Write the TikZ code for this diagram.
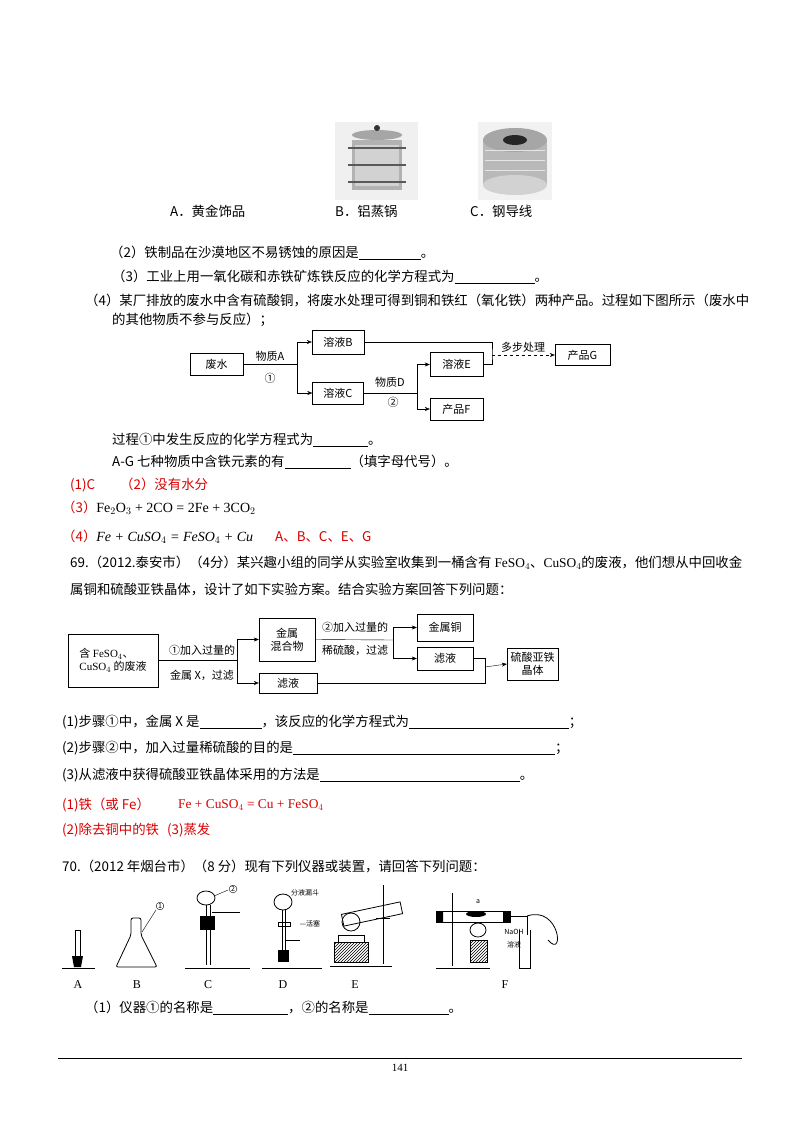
\documentclass[tikz,border=0pt]{standalone}
\usepackage{fontspec}
\setmainfont{Noto Sans CJK SC}
\newfontfamily\tm{Liberation Serif}
\usetikzlibrary{arrows.meta,patterns}
\newcommand{\blk}[1]{\rule[-2pt]{#1}{0.5pt}}
\begin{document}
\begin{tikzpicture}[x=1pt,y=-1pt,
 txt/.style={anchor=west,inner sep=0,font=\fontsize{13.4}{15}\selectfont},
 rtxt/.style={txt,text=red!85!black},
 box/.style={draw,thin,inner sep=1pt,font=\fontsize{11}{13}\selectfont,align=center},
 arr/.style={-{Stealth[length=5pt,width=4pt]}},
 lbl/.style={inner sep=0,font=\fontsize{11}{13}\selectfont},
 sm/.style={inner sep=0,font=\fontsize{7}{8}\selectfont},
 app/.style={line width=0.8pt}]
\path[fill=white] (0,0) rectangle (800,1132);
% top images
\fill[gray!12] (335,122) rectangle (418,200);
\fill[gray!60] (352,140) rectangle (402,190);
\fill[gray!35] (355,145) rectangle (399,186);
\draw[gray!70!black,line width=1.5pt] (348,148)--(406,148) (348,165)--(406,165) (348,182)--(406,182);
\fill[gray!70] (377,135) ellipse (25 and 5);
\fill[black!80] (377,128) circle (3);
\fill[gray!10] (478,122) rectangle (552,200);
\fill[gray!55] (483,140) rectangle (547,185);
\fill[gray!35] (515,185) ellipse (32 and 10);
\fill[gray!70] (515,140) ellipse (32 and 12);
\fill[black!85] (515,140) ellipse (12 and 5);
\draw[gray!20,thin] (485,150)--(545,150) (485,160)--(545,160) (485,170)--(545,170);
\node[txt] (oa) at (170,211) {A．黄金饰品};
\node[txt] (ob) at (335,211) {B．铝蒸锅};
\node[txt] (oc) at (470,211) {C．钢导线};
\node[txt] (q2) at (110,253) {（2）铁制品在沙漠地区不易锈蚀的原因是\blk{62pt}。};
\node[txt] (q3) at (112,277) {（3）工业上用一氧化碳和赤铁矿炼铁反应的化学方程式为\blk{80pt}。};
\node[txt] (q4) at (85,300) {（4）某厂排放的废水中含有硫酸铜，将废水处理可得到铜和铁红（氧化铁）两种产品。过程如下图所示（废水中};
\node[txt] (q4b) at (112,320) {的其他物质不参与反应）；};
% flowchart 1
\node[box,minimum width=53pt,minimum height=22pt] (fs) at (216.5,364) {废水};
\node[box,minimum width=52pt,minimum height=24pt] (B) at (338,342) {溶液B};
\node[box,minimum width=51pt,minimum height=22pt] (C) at (338,393) {溶液C};
\node[box,minimum width=53pt,minimum height=24pt] (E) at (456.5,364.5) {溶液E};
\node[box,minimum width=53pt,minimum height=22pt] (F) at (456.5,409) {产品F};
\node[box,minimum width=55pt,minimum height=21pt] (G) at (582.5,355) {产品G};
\coordinate (j1) at (297,364);
\coordinate (j2) at (417,393);
\coordinate (j3) at (492,355);
\draw (fs.east)--(j1);
\draw[arr] (j1)|-(B.west);
\draw[arr] (j1)|-(C.west);
\draw (C.east)--(j2);
\draw[arr] (j2)|-(E.west);
\draw[arr] (j2)|-(F.west);
\draw (B.east)-|(j3)|-(E.east);
\draw[arr,dashed] (j3)--(G.west);
\node[lbl] (la) at (270,356) {物质A};
\node[lbl] (l1) at (270,378) {①};
\node[lbl] (ld) at (390,382) {物质D};
\node[lbl] (l2) at (393,402) {②};
\node[lbl] (ldb) at (523,347) {多步处理};
\node[txt] (q5) at (112,440) {过程①中发生反应的化学方程式为\blk{55pt}。};
\node[txt] (q6) at (112,462) {A-G 七种物质中含铁元素的有\blk{66pt}（填字母代号）。};
\node[rtxt] (a1) at (70,485) {(1)C\hspace{25pt}（2）没有水分};
\node[rtxt] (a3) at (62,508) {（3）\textcolor{black}{\tm\fontsize{14}{16}\selectfont Fe$_2$O$_3$ + 2CO = 2Fe + 3CO$_2$}};
\node[rtxt] (a4) at (62,537) {（4）\textcolor{black}{\tm\fontsize{14}{16}\selectfont\itshape Fe + CuSO$_4$ = FeSO$_4$ + Cu}\hspace{22pt}A、B、C、E、G};
\node[txt] (p69) at (70,563) {69.（2012.泰安市）（4分）某兴趣小组的同学从实验室收集到一桶含有 {\tm FeSO$_4$}、{\tm CuSO$_4$}的废液，他们想从中回收金};
\node[txt] (p69b) at (70,590) {属铜和硫酸亚铁晶体，设计了如下实验方案。结合实验方案回答下列问题：};
% flowchart 2
\node[box,minimum width=90pt,minimum height=53pt,align=left] (w) at (113,660.5) {含 {\tm FeSO$_4$}、\\{\tm CuSO$_4$} 的废液};
\node[box,minimum width=56pt,minimum height=43pt] (m) at (287,639.5) {金属\\混合物};
\node[box,minimum width=58pt,minimum height=20pt] (f1) at (288,683) {滤液};
\node[box,minimum width=56pt,minimum height=27pt] (cu) at (445,627.5) {金属铜};
\node[box,minimum width=56pt,minimum height=23pt] (f2) at (445,658.5) {滤液};
\node[box,minimum width=51pt,minimum height=32pt] (cr) at (532.5,664) {硫酸亚铁\\晶体};
\coordinate (j4) at (237,660.5);
\coordinate (j5) at (393,640);
\coordinate (j6) at (485,667);
\draw (w.east)--(j4);
\draw[arr] (j4)|-(m.west);
\draw[arr] (j4)|-(f1.west);
\draw (m.east)--(j5);
\draw[arr] (j5)|-(cu.west);
\draw[arr] (j5)|-(f2.west);
\draw (f2.east)-|(j6);
\draw (f1.east)-|(j6);
\draw[arr] (j6)--(cr.west);
\node[lbl] (s1) at (202,650) {①加入过量的};
\node[lbl] (s1b) at (202,675) {金属 X，过滤};
\node[lbl] (s2) at (355,627) {②加入过量的};
\node[lbl] (s2b) at (355,650) {稀硫酸，过滤};
\node[txt] (r1) at (62,722) {(1)步骤①中，金属 X 是\blk{62pt}，该反应的化学方程式为\blk{160pt}；};
\node[txt] (r2) at (62,748) {(2)步骤②中，加入过量稀硫酸的目的是\blk{262pt}；};
\node[txt] (r3) at (62,775) {(3)从滤液中获得硫酸亚铁晶体采用的方法是\blk{200pt}。};
\node[rtxt] (b1) at (62,805) {(1)铁（或 Fe）};
\node[rtxt] (b1b) at (178,805) {\tm Fe + CuSO$_4$ = Cu + FeSO$_4$};
\node[rtxt] (b2) at (62,830) {(2)除去铜中的铁\hspace{8pt}(3)蒸发};
\node[txt] (p70) at (62,866) {70.（2012 年烟台市）（8 分）现有下列仪器或装置，请回答下列问题：};
% apparatus A
\draw[app] (62,968)--(95,968);
\draw[app] (75,930) rectangle (80,958);
\fill (72,956)--(83,956)--(81,967)--(74,967)--cycle;
% B
\draw[app,rounded corners=2pt] (116,967)--(131,935)--(131,918)--(141,918)--(141,935)--(157,967)--cycle;
\draw (142,932)--(156,910);
\node[sm,draw,circle,inner sep=0.5pt] (c1) at (160,906) {1};
% C
\draw[app] (185,968)--(250,968);
\draw[app] (206,898) ellipse (9 and 7);
\draw[app] (206,905)--(206,965) (210,905)--(210,965);
\fill (200,916) rectangle (215,930);
\draw[app] (212,912)--(240,912);
\draw (214,896)--(228,890);
\node[sm,draw,circle,inner sep=0.5pt] (c2) at (233,889) {2};
% D
\draw[app] (262,968)--(322,968);
\draw[app] (283,902) ellipse (9 and 8);
\draw[app] (282,910)--(282,958) (285,910)--(285,958);
\draw[app] (278,922) rectangle (290,926);
\fill (278,950) rectangle (289,962);
\draw[app] (286,940)--(300,940);
\node[sm] (d1) at (305,893) {分液漏斗};
\node[sm] (d2) at (310,924) {—活塞};
% E
\draw[app] (330,966)--(392,966);
\draw[app] (383,885)--(383,964);
\draw[app,pattern=north east lines] (334,942) rectangle (368,962);
\draw[app] (338,942)--(364,942)--(364,935)--(338,935)--cycle;
\draw[app] (351,922) ellipse (9 and 9);
\draw[app,rotate around={12:(372,914)}] (342,908) rectangle (402,920);
\draw[app] (376,918)--(390,918);
% F
\draw[app] (436,968)--(490,968);
\draw[app] (452,893)--(452,966);
\draw[app] (436,911) rectangle (510,922);
\fill (436,911) rectangle (443,922) (503,911) rectangle (510,922);
\fill (476,914) ellipse (10 and 3);
\draw[app,pattern=north east lines] (470,940) rectangle (487,962);
\draw[app] (478,930) ellipse (8 and 7);
\draw[app] (510,916)--(527,916)--(527,935);
\draw[app] (519,930)--(519,968)--(530,968)--(530,930);
\draw[app] (527,916) .. controls (560,905) and (565,960) .. (548,940);
\node[sm] (fa) at (478,902) {a};
\node[sm] (fn) at (514,932) {NaOH};
\node[sm] (fs2) at (514,945) {溶液};
\foreach \n/\x in {A/78,B/137,C/208,D/283,E/355,F/505}{\node[txt,anchor=center,font=\tm\fontsize{12}{14}\selectfont] (L\n) at (\x,985) {\n};}
\node[txt] (q7) at (85,1008) {（1）仪器①的名称是\blk{75pt}，②的名称是\blk{80pt}。};
\draw[line width=1pt] (58,1058)--(742,1058);
\node[lbl,font=\tm\fontsize{11}{13}\selectfont] (pg) at (400,1068) {141};
\end{tikzpicture}
\end{document}
